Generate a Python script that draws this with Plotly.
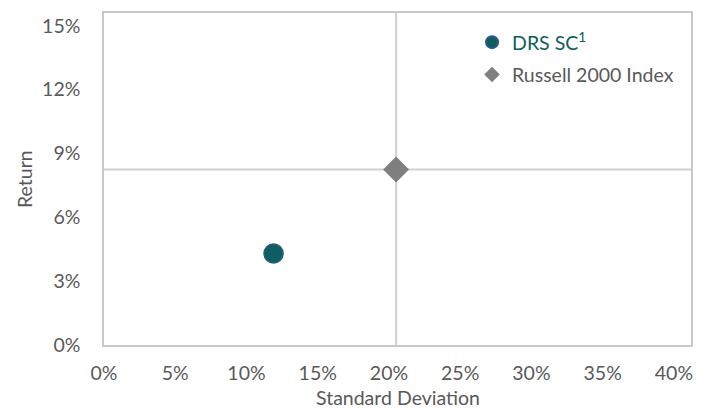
import plotly.graph_objects as go

names = ["DRS SC<sup>1</sup>", "Russell 2000 Index"]
std_dev = [11.9, 20.5]
returns = [4.3, 8.25]
x_ticks = [0, 5, 10, 15, 20, 25, 30, 35, 40]
y_ticks = [0, 3, 6, 9, 12, 15]

FONT = "Lato"
GRAY = "#595959"
TEAL = "#0f5e5e"
FS = 19.5

fig = go.Figure()

# crosshair through the index point
fig.add_shape(type="line", xref="x", yref="paper", x0=std_dev[1], x1=std_dev[1], y0=0, y1=1,
              line=dict(color="#d0d0d0", width=2), layer="below")
fig.add_shape(type="line", xref="paper", yref="y", x0=0, x1=1, y0=returns[1], y1=returns[1],
              line=dict(color="#d0d0d0", width=2), layer="below")

fig.add_trace(go.Scatter(
    x=[std_dev[0]], y=[returns[0]], mode="markers",
    name=f"<span style='color:{TEAL}'>{names[0]}</span>",
    legendgroup="a",
    marker=dict(symbol="circle", size=19, color=TEAL, line=dict(color="#2a5a8a", width=1.5)),
))
fig.add_trace(go.Scatter(
    x=[std_dev[1]], y=[returns[1]], mode="markers",
    name=f"<span style='color:{GRAY}'>{names[1]}</span>",
    legendgroup="b",
    marker=dict(symbol="diamond", size=20, color="#7f7f7f", line=dict(width=0)),
))

fig.add_annotation(text="Standard Deviation", xref="paper", yref="paper", x=0.5, y=0,
                   yshift=-52, showarrow=False, yanchor="middle",
                   font=dict(size=FS, color=GRAY, family=FONT))
fig.add_annotation(text="Return", xref="paper", yref="paper", x=0, y=0.5,
                   xshift=-80, showarrow=False, textangle=-90, xanchor="center",
                   font=dict(size=FS, color=GRAY, family=FONT))

fig.update_layout(
    width=699, height=400,
    margin=dict(l=96, r=16, t=5, b=63),
    paper_bgcolor="white", plot_bgcolor="white",
    font=dict(family=FONT, size=FS, color=GRAY),
    showlegend=True,
    legend=dict(x=0.627, y=0.970, xanchor="left", yanchor="top",
                bgcolor="rgba(0,0,0,0)", font=dict(size=FS, family=FONT),
                tracegroupgap=4, itemsizing="constant"),
    xaxis=dict(range=[0, 41.2], tickvals=x_ticks, ticktext=[f"{v}%" for v in x_ticks],
               showgrid=False, zeroline=False, showline=True, linecolor="#c8c8c8",
               linewidth=1.5, mirror=True, ticks="outside", ticklen=10,
               tickcolor="rgba(0,0,0,0)", automargin=False,
               tickfont=dict(size=FS, color=GRAY)),
    yaxis=dict(range=[0, 15.6], tickvals=y_ticks, ticktext=[f"{v}%" for v in y_ticks],
               showgrid=False, zeroline=False, showline=True, linecolor="#c8c8c8",
               linewidth=1.5, mirror=True, ticks="outside", ticklen=18,
               tickcolor="rgba(0,0,0,0)", automargin=False,
               tickfont=dict(size=FS, color=GRAY)),
)

fig.write_html("out.html")
